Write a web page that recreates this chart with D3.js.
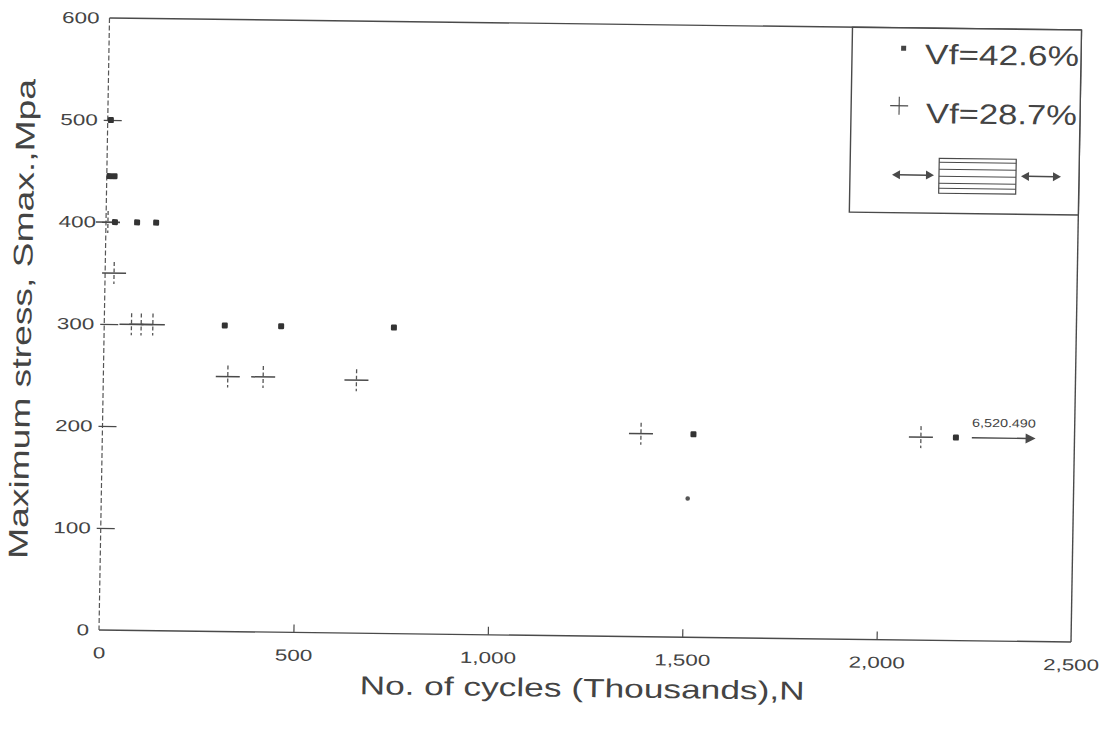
<!DOCTYPE html>
<html>
<head>
<meta charset="utf-8">
<script src="https://d3js.org/d3.v7.min.js"></script>
<style>
  body { margin: 0; background: #fff; }
  svg text { font-family: "Liberation Sans", Arial, sans-serif; fill: #444; }
</style>
</head>
<body>
<div id="viz"></div>
<script>
// fatigue results: cycles to failure (thousands) vs max stress (MPa)
var squareN = [8, 7, 20, 23, 80, 129, 310, 455, 745, 1520, 2195];
var squareS = [500, 445, 445, 400, 400, 400, 300, 300, 300, 199, 199];
var plusN = [5, 23, 70, 95, 125, 320, 411, 651, 1385, 2105];
var plusS = [400, 350, 300, 300, 300, 250, 250, 248, 199, 199];
var dotN = [1508];
var dotS = [136];
var runoutN = [2236, 2400];   // arrow span for the run-out specimen
var runoutS = 199;
var runoutLabel = "6,520.490";
var xTicks = [0, 500, 1000, 1500, 2000, 2500];
var yTicks = [0, 100, 200, 300, 400, 500, 600];
var legendLabels = ["Vf=42.6%", "Vf=28.7%"];

var width = 1110, height = 732;
var W = 972, H = 612;
var lineInk = "#4a4a4a";

var svg = d3.select("#viz").append("svg")
    .attr("width", width)
    .attr("height", height);

// the scanned sheet sits slightly skewed on the page
var g = svg.append("g")
    .attr("transform", "matrix(1,0.01235,-0.01716,1,109.5,18)");

var x = d3.scaleLinear().domain([0, 2500]).range([0, W]);
var y = d3.scaleLinear().domain([0, 600]).range([H, 0]);

// stretch glyphs sideways, the plotter font is wide
function widen(sel, k) {
    sel.each(function() {
        var w = this.getComputedTextLength();
        d3.select(this).attr("textLength", w * k).attr("lengthAdjust", "spacingAndGlyphs");
    });
}

// frame
g.append("line").attr("x1", 0).attr("y1", 0).attr("x2", W).attr("y2", 0)
    .attr("stroke", lineInk).attr("stroke-width", 1.4);
g.append("line").attr("x1", W).attr("y1", 0).attr("x2", W).attr("y2", H)
    .attr("stroke", lineInk).attr("stroke-width", 1.4);
g.append("line").attr("x1", 0).attr("y1", H).attr("x2", W).attr("y2", H)
    .attr("stroke", lineInk).attr("stroke-width", 1.4);
g.append("line").attr("x1", 0).attr("y1", 0).attr("x2", 0).attr("y2", H)
    .attr("stroke", "#555").attr("stroke-width", 1.2)
    .attr("stroke-dasharray", "5,2.5");

// x axis
var xAxis = g.append("g")
    .attr("transform", "translate(0," + H + ")")
    .call(d3.axisBottom(x).tickValues(xTicks).tickSize(-8).tickFormat(d3.format(",")));
xAxis.select(".domain").remove();
xAxis.selectAll("line").attr("stroke", lineInk).attr("stroke-width", 1.2)
    .filter(function(d) { return d === 0 || d === 2500; }).remove();
xAxis.selectAll("text")
    .attr("y", 17).attr("dy", "0.71em")
    .style("font-size", "16px").attr("fill", "#4a4a4a");

// y axis
var yAxis = g.append("g")
    .call(d3.axisLeft(y).tickValues(yTicks).tickFormat(d3.format("d")));
yAxis.select(".domain").remove();
yAxis.selectAll("line").attr("x1", -4).attr("x2", 14)
    .attr("stroke", lineInk).attr("stroke-width", 1.2)
    .filter(function(d) { return d === 0 || d === 600; }).remove();
yAxis.selectAll("text")
    .attr("x", -10).attr("dy", "0.32em")
    .style("font-size", "16px").attr("fill", "#4a4a4a");

widen(xAxis.selectAll("text"), 1.4);
widen(yAxis.selectAll("text"), 1.4);

// axis titles
g.append("text")
    .attr("x", W / 2 - 2).attr("y", H + 61)
    .attr("text-anchor", "middle")
    .style("font-size", "26px")
    .attr("textLength", 445).attr("lengthAdjust", "spacingAndGlyphs")
    .text("No. of cycles (Thousands),N");

g.append("text")
    .attr("transform", "translate(-73," + (H / 2 - 4) + ") rotate(-90)")
    .attr("text-anchor", "middle")
    .style("font-size", "27px")
    .attr("textLength", 480).attr("lengthAdjust", "spacingAndGlyphs")
    .text("Maximum stress, Smax.,Mpa");

// Vf = 28.7% : crosses
var plusData = plusN.map(function(n, i) { return [n, plusS[i]]; });
var plus = g.append("g").selectAll("g")
    .data(plusData).enter().append("g")
    .attr("transform", function(d) { return "translate(" + x(d[0]) + "," + y(d[1]) + ")"; });
plus.append("line").attr("x1", -12).attr("x2", 12).attr("y1", 0).attr("y2", 0)
    .attr("stroke", lineInk).attr("stroke-width", 1.5);
plus.append("line").attr("x1", 0).attr("x2", 0).attr("y1", -11).attr("y2", 11)
    .attr("stroke", "#555").attr("stroke-width", 1.3)
    .attr("stroke-dasharray", "4,2.5");

// Vf = 42.6% : squares
var squareData = squareN.map(function(n, i) { return [n, squareS[i]]; });
g.append("g").selectAll("rect")
    .data(squareData).enter().append("rect")
    .attr("x", function(d) { return x(d[0]) - 3; })
    .attr("y", function(d) { return y(d[1]) - 3; })
    .attr("width", 6).attr("height", 6).attr("rx", 1.2)
    .attr("fill", "#333");

g.append("g").selectAll("circle")
    .data(dotN.map(function(n, i) { return [n, dotS[i]]; })).enter().append("circle")
    .attr("cx", function(d) { return x(d[0]); })
    .attr("cy", function(d) { return y(d[1]); })
    .attr("r", 2.3).attr("fill", "#555");

// run-out arrow
var ax0 = x(runoutN[0]), ax1 = x(runoutN[1]), ay = y(runoutS);
g.append("line").attr("x1", ax0).attr("x2", ax1 - 8).attr("y1", ay).attr("y2", ay)
    .attr("stroke", lineInk).attr("stroke-width", 1.4);
g.append("path")
    .attr("d", "M" + ax1 + "," + ay + "L" + (ax1 - 10) + "," + (ay - 5) + "L" + (ax1 - 10) + "," + (ay + 5) + "Z")
    .attr("fill", lineInk);
g.append("text")
    .attr("x", ax0).attr("y", ay - 11)
    .style("font-size", "11.5px")
    .attr("textLength", ax1 - ax0).attr("lengthAdjust", "spacingAndGlyphs")
    .text(runoutLabel);

// legend box
var lg = g.append("g").attr("transform", "translate(743,0)");
lg.append("rect").attr("x", 0).attr("y", 0).attr("width", W - 743).attr("height", 185)
    .attr("fill", "#fff").attr("stroke", lineInk).attr("stroke-width", 1.4);
lg.append("rect").attr("x", 49).attr("y", 18).attr("width", 5).attr("height", 5)
    .attr("fill", "#444");
lg.append("text").attr("x", 73).attr("y", 36)
    .style("font-size", "28px")
    .attr("textLength", 154).attr("lengthAdjust", "spacingAndGlyphs")
    .text(legendLabels[0]);
lg.append("line").attr("x1", 39).attr("x2", 57).attr("y1", 78).attr("y2", 78)
    .attr("stroke", lineInk).attr("stroke-width", 1.3);
lg.append("line").attr("x1", 48).attr("x2", 48).attr("y1", 69).attr("y2", 87)
    .attr("stroke", lineInk).attr("stroke-width", 1.1);
lg.append("text").attr("x", 75).attr("y", 95)
    .style("font-size", "28px")
    .attr("textLength", 151).attr("lengthAdjust", "spacingAndGlyphs")
    .text(legendLabels[1]);

// loading direction icon: double arrows either side of a laminate
function doubleArrow(x0, x1, yy) {
    lg.append("line").attr("x1", x0 + 6).attr("x2", x1 - 6).attr("y1", yy).attr("y2", yy)
        .attr("stroke", lineInk).attr("stroke-width", 1.5);
    lg.append("path").attr("d", "M" + x0 + "," + yy + "l8,-4.5l0,9Z").attr("fill", lineInk);
    lg.append("path").attr("d", "M" + x1 + "," + yy + "l-8,-4.5l0,9Z").attr("fill", lineInk);
}
doubleArrow(42, 84, 147);
doubleArrow(171, 211, 147);
lg.append("rect").attr("x", 89).attr("y", 130).attr("width", 77).attr("height", 35)
    .attr("fill", "none").attr("stroke", lineInk).attr("stroke-width", 1.2);
[134, 141, 148, 155, 160].forEach(function(ly) {
    lg.append("line").attr("x1", 89).attr("x2", 166).attr("y1", ly).attr("y2", ly)
        .attr("stroke", lineInk).attr("stroke-width", 1);
});
</script>
</body>
</html>
